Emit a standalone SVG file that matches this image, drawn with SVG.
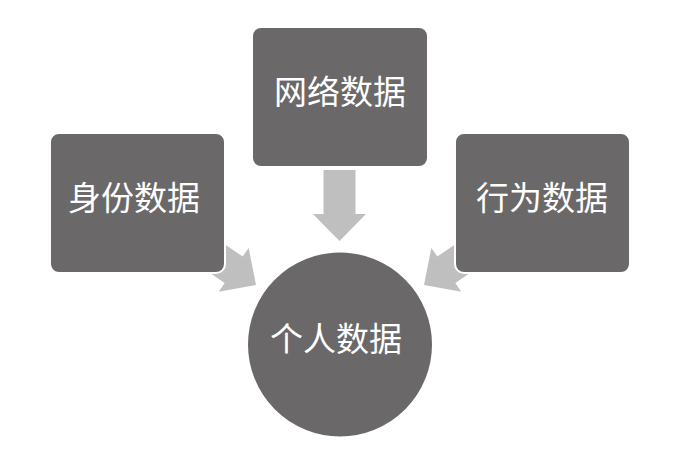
<svg xmlns="http://www.w3.org/2000/svg" width="682" height="459" viewBox="0 0 682 459">
<style>
.node{fill:#6b6869;stroke:#ffffff;stroke-width:2}
.lbl{fill:#ffffff;font-family:"Noto Sans CJK SC","Noto Sans",sans-serif;font-size:33px;text-anchor:middle}
.arr{fill:#bfbfbf}
</style>
<defs>
<polygon id="arrow" points="0,-16 44,-16 44,-26.5 71,0 44,26.5 44,16 0,16"/>
</defs>
<rect width="682" height="459" fill="#ffffff"/>
<g id="connectors">
<use href="#arrow" class="arr" transform="translate(339.5,241) rotate(90) translate(-71,0)"/>
<use href="#arrow" class="arr" transform="translate(256,285) rotate(34.3) translate(-71,0)"/>
<use href="#arrow" class="arr" transform="translate(424,285) rotate(145.7) translate(-71,0)"/>
</g>
<g id="network">
<rect class="node" x="252" y="27" width="176" height="140" rx="9"/>
<text class="lbl" x="340" y="104">网络数据</text>
</g>
<g id="identity">
<rect class="node" x="50" y="133" width="175" height="140" rx="9"/>
<text class="lbl" x="134" y="210">身份数据</text>
</g>
<g id="behavior">
<rect class="node" x="455" y="133" width="175" height="140" rx="9"/>
<text class="lbl" x="542" y="210">行为数据</text>
</g>
<g id="personal">
<circle class="node" cx="340" cy="344.5" r="93"/>
<text class="lbl" x="336" y="351">个人数据</text>
</g>
</svg>
